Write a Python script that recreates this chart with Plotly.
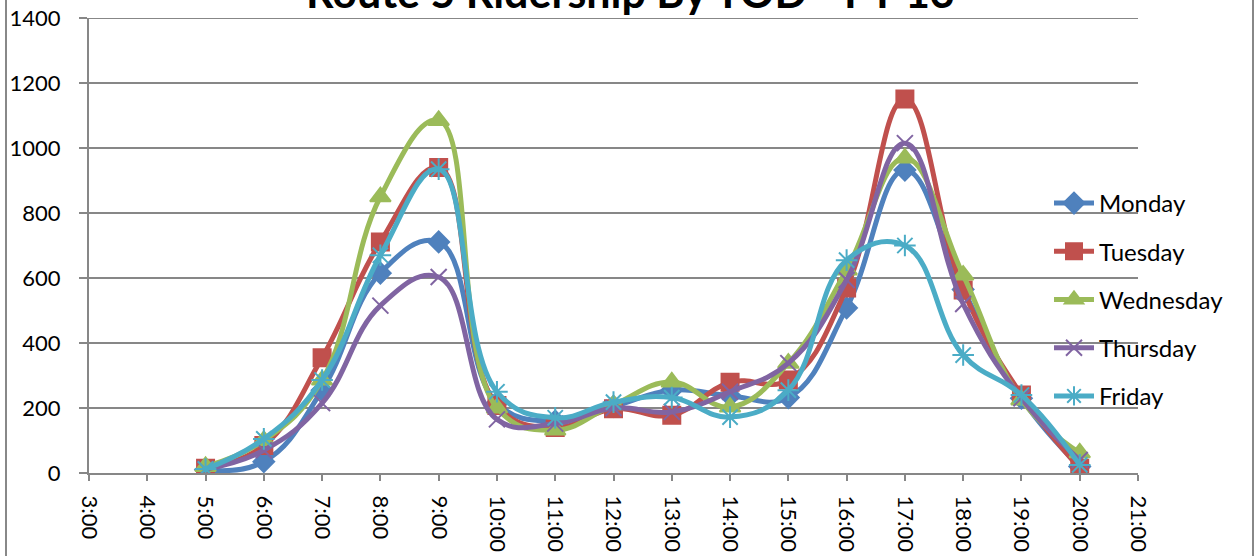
import plotly.graph_objects as go

# Hour of day for each sample (5:00 .. 20:00)
hours = [5, 6, 7, 8, 9, 10, 11, 12, 13, 14, 15, 16, 17, 18, 19, 20]

monday = [10, 35, 255, 615, 711, 215, 160, 205, 255, 238, 232, 508, 932, 565, 230, 20]
tuesday = [15, 85, 355, 711, 940, 208, 140, 198, 178, 279, 286, 569, 1151, 563, 240, 15]
wednesday = [20, 100, 286, 850, 1085, 200, 132, 210, 280, 203, 338, 625, 969, 609, 225, 62]
thursday = [12, 70, 215, 515, 603, 165, 152, 200, 188, 250, 338, 594, 1015, 520, 230, 40]
friday = [12, 105, 286, 670, 935, 250, 170, 218, 232, 172, 255, 655, 700, 363, 240, 25]

tick_hours = list(range(3, 22))
tick_labels = [f"{h}:00" for h in tick_hours]
y_ticks = [0, 200, 400, 600, 800, 1000, 1200, 1400]

series = [
    ("Monday", monday, "#4F81BD", dict(symbol="diamond", size=16)),
    ("Tuesday", tuesday, "#C0504D", dict(symbol="square", size=17)),
    ("Wednesday", wednesday, "#9BBB59", dict(symbol="triangle-up", size=18)),
    ("Thursday", thursday, "#8064A2", dict(symbol="x-thin-open", size=16)),
    ("Friday", friday, "#4BACC6", dict(symbol="asterisk-open", size=18)),
]

fig = go.Figure()
for name, values, color, mk in series:
    marker = dict(color=color, size=mk["size"], symbol=mk["symbol"],
                  line=dict(color=color, width=2))
    fig.add_trace(go.Scatter(
        x=hours, y=values, name=name, legendgroup=name,
        mode="lines+markers",
        line=dict(color=color, width=5, shape="spline", smoothing=1.2),
        marker=marker,
    ))

W, H = 1254, 556
ml, mr, mt, mb = 89, 116, 18, 83
pw, ph = W - ml - mr, H - mt - mb

def px_x(px):
    return (px - ml) / pw

def px_y(py):
    return 1 - (py - mt) / ph

grid = "#878787"
font_family = "Lato, 'Liberation Sans', sans-serif"

fig.update_layout(
    width=W, height=H,
    margin=dict(l=ml, r=mr, t=mt, b=mb, pad=0, autoexpand=False),
    paper_bgcolor="white", plot_bgcolor="white",
    font=dict(family=font_family, color="black", size=22),
    showlegend=True,
    legend=dict(
        x=px_x(1049), xanchor="left",
        y=px_y(181), yanchor="top",
        font=dict(size=24, family=font_family, color="black"),
        tracegroupgap=14,
        bgcolor="rgba(0,0,0,0)",
        itemwidth=40,
    ),
    xaxis=dict(
        range=[3, 21], automargin=False,
        tickmode="array", tickvals=tick_hours, ticktext=tick_labels,
        tickangle=90,
        showgrid=False, zeroline=False,
        showline=True, linecolor=grid, linewidth=2,
        ticks="outside", ticklen=6, tickcolor=grid, tickwidth=2,
        ticklabelstandoff=10,
        tickfont=dict(size=22),
    ),
    yaxis=dict(
        range=[0, 1400], automargin=False,
        tickmode="array", tickvals=y_ticks,
        showgrid=True, gridcolor=grid, gridwidth=2,
        zeroline=False,
        showline=True, linecolor=grid, linewidth=2,
        ticks="outside", ticklen=8, tickcolor=grid, tickwidth=2,
        ticklabelstandoff=14,
        tickfont=dict(size=22),
    ),
    shapes=[
        # gridline along the top of the value axis
        dict(type="line", xref="paper", yref="y",
             x0=0, x1=1, y0=1400, y1=1400, layer="below",
             line=dict(color=grid, width=2)),
        # chart frame edges
        dict(type="line", xref="paper", yref="paper",
             x0=px_x(6), x1=px_x(6), y0=-0.3, y1=1.2,
             line=dict(color="#888888", width=2)),
        dict(type="line", xref="paper", yref="paper",
             x0=px_x(1253), x1=px_x(1253), y0=-0.3, y1=1.2,
             line=dict(color="#888888", width=2)),
    ],
    annotations=[
        dict(text="<b>Route 5 Ridership By TOD - FY 13</b>",
             xref="paper", yref="paper",
             x=px_x(630), y=px_y(-9), xanchor="center", yanchor="middle",
             showarrow=False,
             font=dict(size=43, family=font_family, color="black")),
    ],
)

fig.write_html("out.html")
